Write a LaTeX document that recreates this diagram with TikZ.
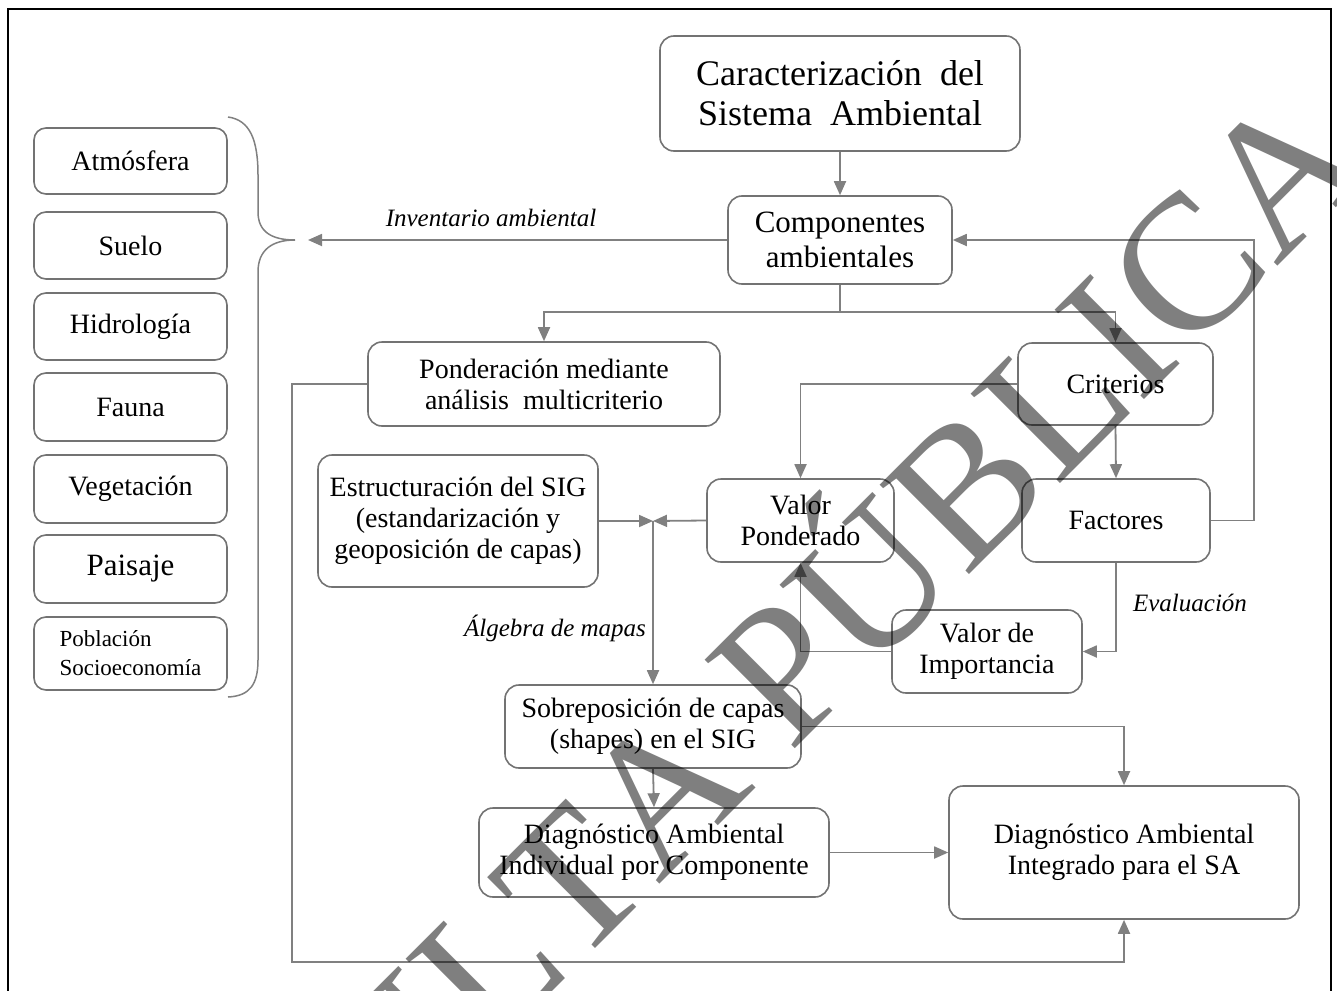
\documentclass[tikz,border=0pt]{standalone}
\usepackage{fontspec}
\setmainfont{Liberation Serif}
\newfontfamily\wmfont{Liberation Serif}[Kerning=Off]
\usetikzlibrary{arrows.meta}
\definecolor{lg}{RGB}{128,128,128}
\definecolor{bg}{RGB}{115,115,115}
\begin{document}
\begin{tikzpicture}[x=1pt,y=-1pt,
  box/.style={draw=bg, line width=1.6pt, rounded corners=14pt, align=center, inner sep=0pt, font=\fontsize{28}{31}\selectfont},
  lbox/.style={box, minimum width=193pt, rounded corners=12pt},
  conn/.style={draw=lg, line width=1.8pt},
  arr/.style={conn, -{Triangle[length=14pt,width=12pt]}},
  lbl/.style={font=\fontsize{25}{28}\selectfont\itshape, inner sep=0pt}]
\useasboundingbox (0,0) rectangle (1337,990);
% frame
\begin{scope}
\clip (0,0) rectangle (1337,990);
\draw[black, line width=2pt] (8,1000) -- (8,9) -- (1331,9) -- (1331,1000);
\end{scope}

% left column
\node[lbox, minimum height=66pt] (atm) at (130.5,161) {Atmósfera};
\node[lbox, minimum height=67pt] (sue) at (130.5,245.5) {Suelo};
\node[lbox, minimum height=67pt] (hid) at (130.5,326.5) {Hidrología};
\node[lbox, minimum height=68pt] (fau) at (130.5,407) {Fauna};
\node[lbox, minimum height=68pt] (veg) at (130.5,489) {Vegetación};
\node[lbox, minimum height=68pt, font=\fontsize{31}{34}\selectfont] (pai) at (130.5,569) {Paisaje};
\node[lbox, minimum height=73pt, align=left, font=\fontsize{23}{29}\selectfont] (pob) at (130.5,653.5) {Población\\Socioeconomía};

% brace
\draw[conn, line width=1.5pt] (228,117) .. controls (250,120) and (258,140) .. (258,175) -- (258,212)
  .. controls (258,232) and (272,240) .. (295,240) coordinate (btip)
  .. controls (272,240) and (258,250) .. (258,272) -- (258,660)
  .. controls (258,684) and (250,696) .. (228,697);
\coordinate (btipa) at (308,240);

% main boxes
\node[box, minimum width=360pt, minimum height=115pt, font=\fontsize{36}{40}\selectfont] (car) at (840,93.5) {Caracterización~~del\\Sistema~~Ambiental};
\node[box, minimum width=224pt, minimum height=88pt, font=\fontsize{31}{35}\selectfont] (com) at (840,240) {Componentes\\ambientales};
\node[box, minimum width=352pt, minimum height=84pt] (pon) at (544,384) {Ponderación mediante\\análisis~~multicriterio};
\node[box, minimum width=195pt, minimum height=82pt] (cri) at (1115.5,384) {Criterios};
\node[box, minimum width=187pt, minimum height=83pt] (vp) at (800.5,520.5) {Valor\\Ponderado};
\node[box, minimum width=188pt, minimum height=83pt] (fac) at (1116,520.5) {Factores};
\node[box, minimum width=190pt, minimum height=83pt] (vdi) at (987,651.5) {Valor de\\Importancia};
\node[box, minimum width=280pt, minimum height=132pt] (est) at (458,521) {Estructuración del SIG\\(estandarización y\\geoposición de capas)};
\node[box, minimum width=296pt, minimum height=83pt] (sob) at (653,726.5) {Sobreposición de capas\\(shapes) en el SIG};
\node[box, minimum width=350pt, minimum height=89pt] (ind) at (654,852.5) {Diagnóstico Ambiental\\Individual por Componente};
\node[box, minimum width=350pt, minimum height=133pt] (int) at (1124,852.5) {Diagnóstico Ambiental\\Integrado para el SA};

% labels
\node[lbl] (linv) at (491,218) {Inventario ambiental};
\node[lbl] (leva) at (1190,603) {Evaluación};
\node[lbl] (lalg) at (555,628) {Álgebra de mapas};

% coordinates
\coordinate (j1) at (840,312);
\coordinate (jn) at (653,521);

% connectors
\draw[arr] (car) -- (com);
\draw[arr] (com.west) -- (btipa);
\draw[conn] (com.south) -- (j1);
\draw[arr] (j1) -| (pon.north);
\draw[arr] (j1) -| (cri.north);
\draw[arr] (cri.west) -| (vp.north);
\draw[arr] (cri.south) -- (fac.north);
\draw[arr] (fac.east) -- ++(43,0) |- (com.east);
\draw[arr] (fac.south) |- (vdi.east);
\draw[arr] (vdi.west) -| (vp.south);
\draw[arr] (vp.west) -- (jn);
\draw[arr] (est.east) -- (jn);
\draw[arr] (jn) -- (sob.north);
\draw[arr] (sob.south) -- (ind.north);
\draw[arr] (sob.east) -| (int.north);
\draw[arr] (ind.east) -- (int.west);
\draw[arr] (pon.west) -- (292,384) -- (292,962) -| (int.south);

% watermark (semi-transparent, on top)
\begin{scope}
\clip (0,0) rectangle (1337,990);
\node[rotate=45, anchor=base east, text=black, text opacity=0.5, font=\wmfont\fontsize{193}{193}\selectfont, inner sep=0pt] (wmk) at (1375,169) {CONSULTA PÚBLICA};
\end{scope}
\end{tikzpicture}
\end{document}
